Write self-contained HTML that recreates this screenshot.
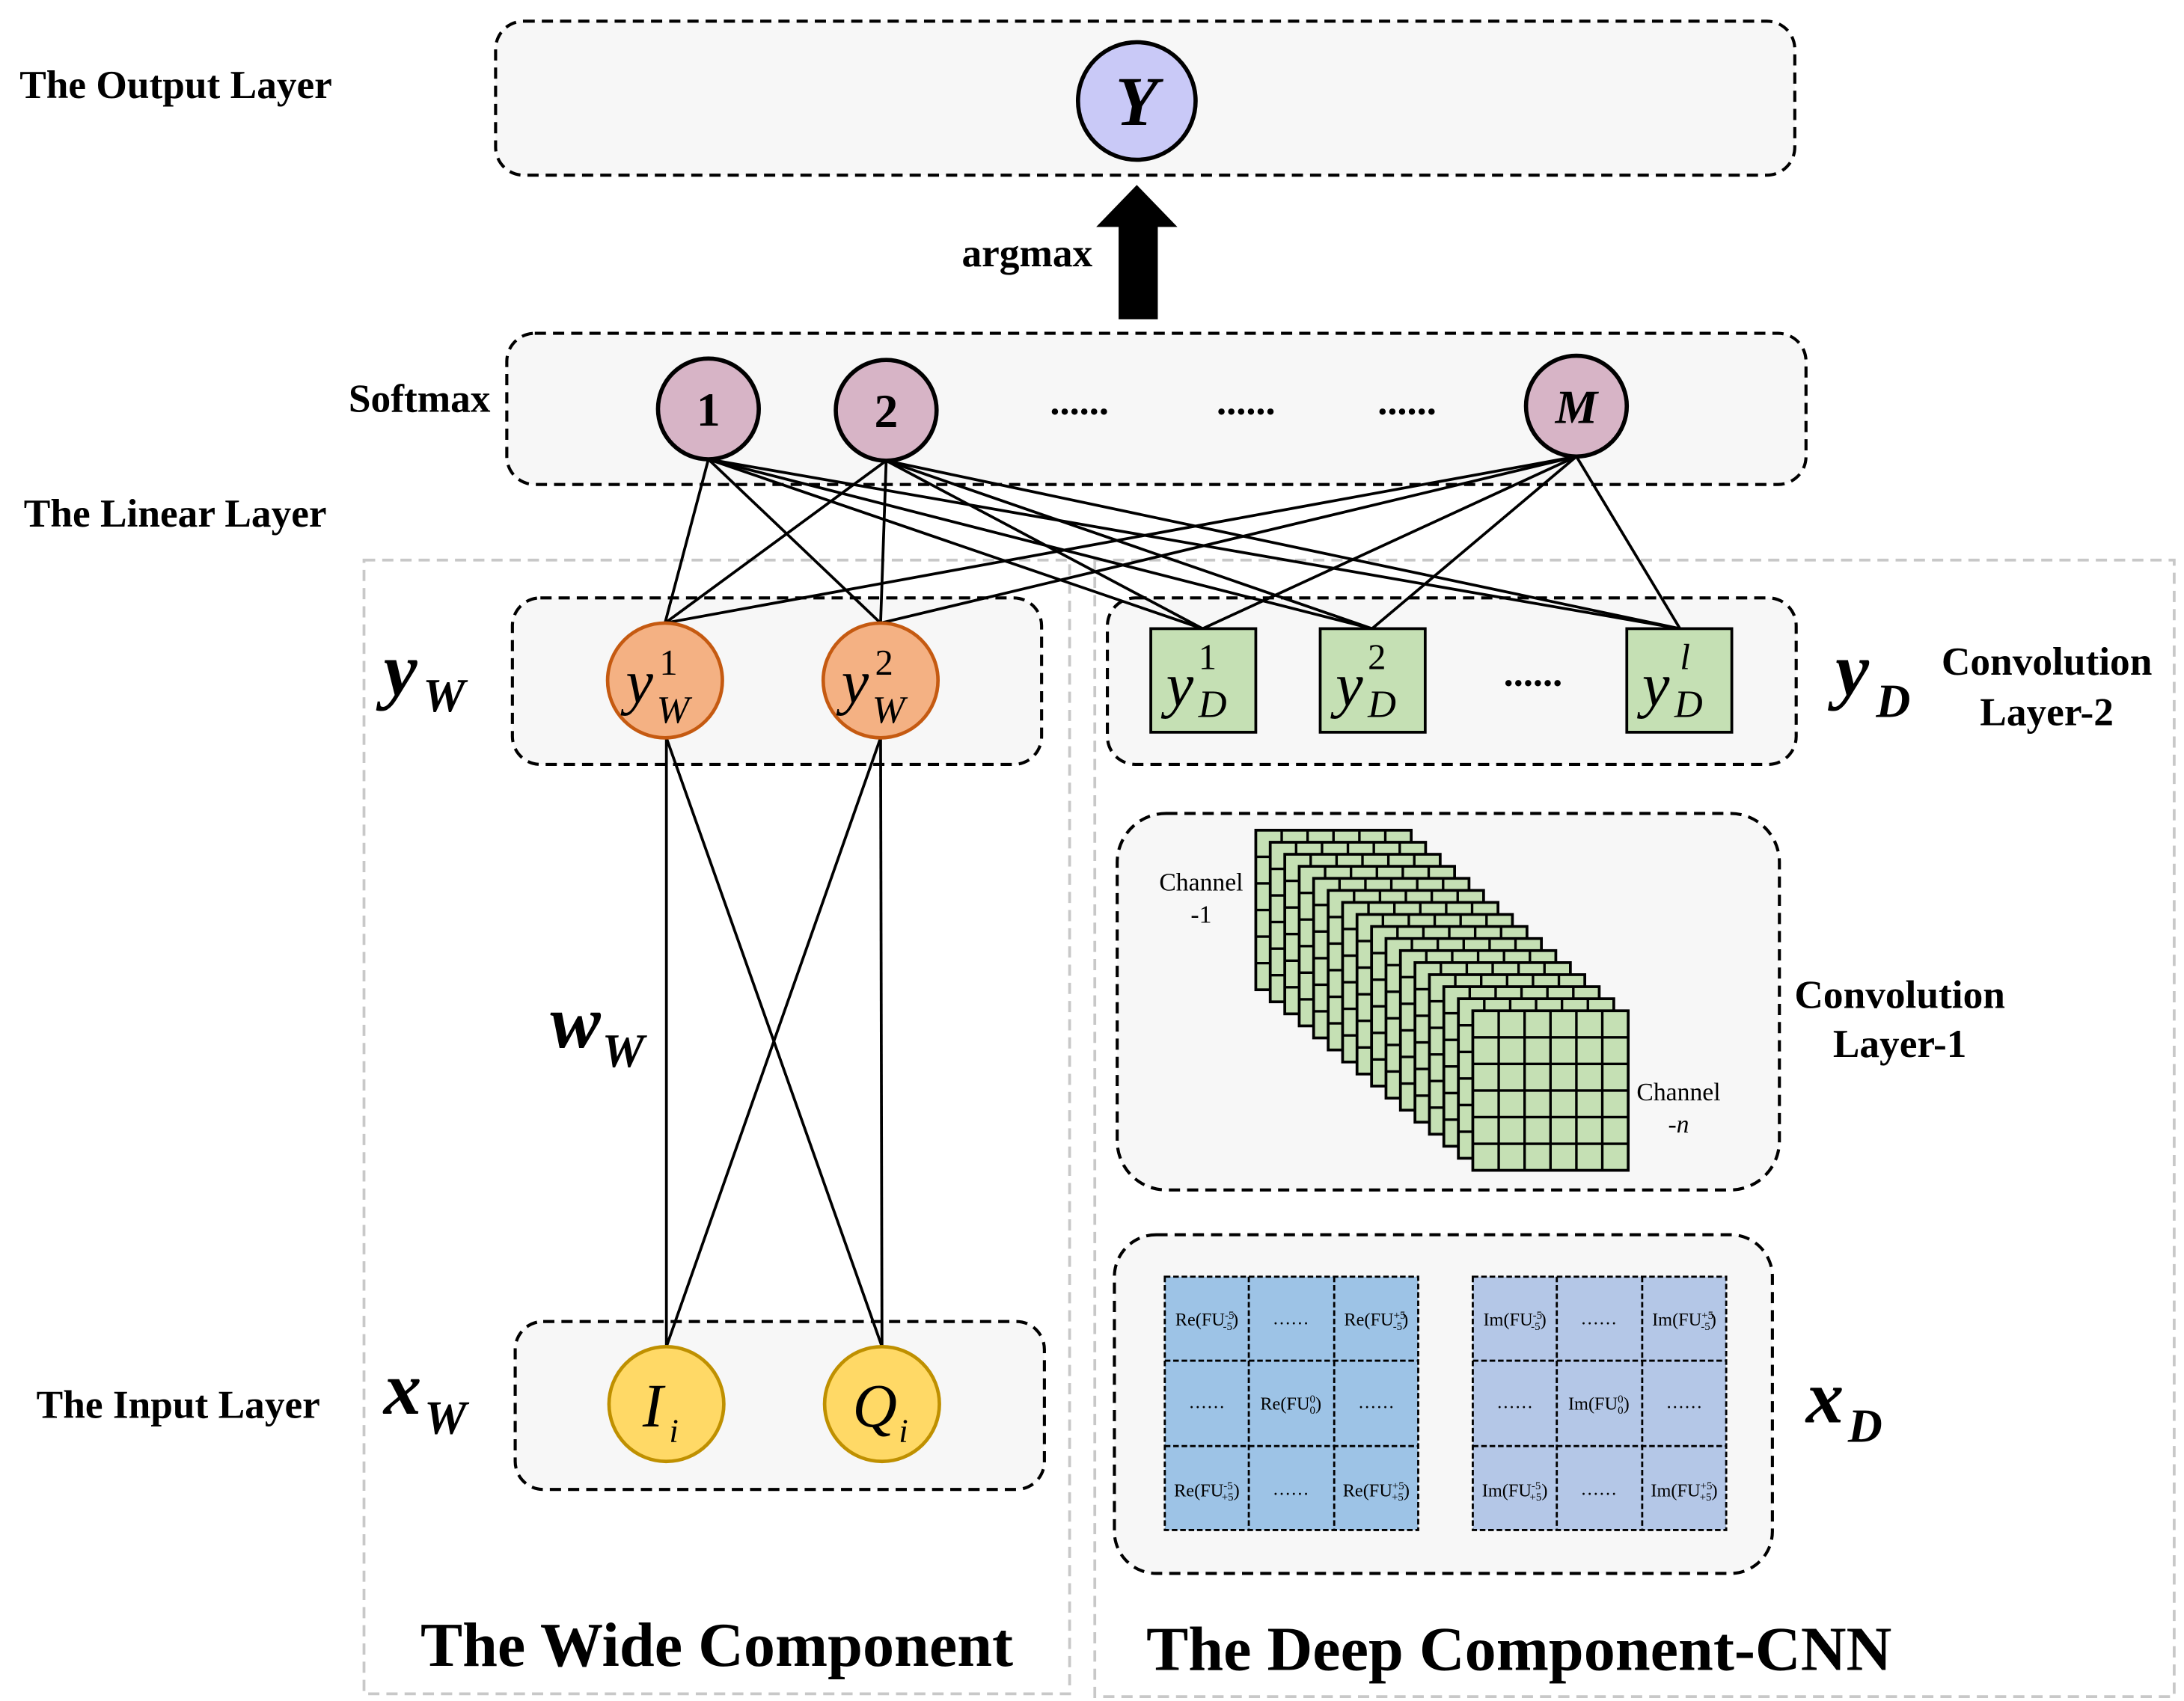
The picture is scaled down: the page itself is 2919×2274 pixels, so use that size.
<!DOCTYPE html>
<html><head><meta charset="utf-8"><style>
html,body{margin:0;padding:0;background:#fff;}
svg{display:block;}
text{font-family:"Liberation Serif",serif;}
.b{font-weight:bold;}
.lab{font-size:28.5px;font-weight:bold;}
</style></head><body>
<svg width="2919" height="2274" viewBox="0 0 1560 1215" xmlns="http://www.w3.org/2000/svg">
<rect width="1560" height="1215" fill="#fff"/>
<rect x="260" y="400" width="504" height="810" fill="none" stroke="#c8c8c8" stroke-width="2" stroke-dasharray="8,5"/>
<rect x="782" y="400" width="771" height="812" fill="none" stroke="#c8c8c8" stroke-width="2" stroke-dasharray="8,5"/>
<g fill="#f7f7f7" stroke="#000" stroke-width="2.2" stroke-dasharray="8,5">
<rect x="354" y="15" width="928" height="110" rx="20"/>
<rect x="362" y="238" width="928" height="108" rx="20"/>
<rect x="366" y="427" width="378" height="119" rx="20"/>
<rect x="791" y="427" width="492" height="119" rx="20"/>
<rect x="798" y="581" width="473" height="269" rx="35"/>
<rect x="796" y="882" width="470" height="242" rx="30"/>
<rect x="368" y="944" width="378" height="120" rx="20"/>
</g>
<text x="14" y="70" class="lab">The Output Layer</text>
<text x="249" y="294" class="lab">Softmax</text>
<text x="17" y="376" class="lab">The Linear Layer</text>
<text x="26" y="1013" class="lab">The Input Layer</text>
<text x="687" y="190" class="lab">argmax</text>
<polygon points="799,228 827,228 827,162 841,162 812,132 783,162 799,162" fill="#000"/>
<g stroke="#000" stroke-width="2" fill="none">
<line x1="506" y1="328" x2="475" y2="445"/><line x1="506" y1="328" x2="629" y2="445"/>
<line x1="506" y1="328" x2="859" y2="449"/><line x1="506" y1="328" x2="980" y2="449"/><line x1="506" y1="328" x2="1200" y2="449"/>
<line x1="633" y1="329" x2="475" y2="445"/><line x1="633" y1="329" x2="629" y2="445"/>
<line x1="633" y1="329" x2="859" y2="449"/><line x1="633" y1="329" x2="980" y2="449"/><line x1="633" y1="329" x2="1200" y2="449"/>
<line x1="1126" y1="326" x2="475" y2="445"/><line x1="1126" y1="326" x2="629" y2="445"/>
<line x1="1126" y1="326" x2="859" y2="449"/><line x1="1126" y1="326" x2="980" y2="449"/><line x1="1126" y1="326" x2="1200" y2="449"/>
<line x1="476" y1="527" x2="476" y2="962"/><line x1="476" y1="527" x2="630" y2="962"/>
<line x1="629" y1="527" x2="476" y2="962"/><line x1="629" y1="527" x2="630" y2="962"/>
</g>
<circle cx="812" cy="72" r="42" fill="#c9c9f7" stroke="#000" stroke-width="3"/>
<text x="812" y="89" text-anchor="middle" font-size="50" font-weight="bold" font-style="italic">Y</text>
<g fill="#d7b4c6" stroke="#000" stroke-width="3">
<circle cx="506" cy="292" r="36"/><circle cx="633" cy="293" r="36"/><circle cx="1126" cy="290" r="36"/>
</g>
<text x="506" y="304" text-anchor="middle" font-size="34" class="b">1</text>
<text x="633" y="305" text-anchor="middle" font-size="34" class="b">2</text>
<text x="1126" y="302" text-anchor="middle" font-size="34" font-weight="bold" font-style="italic">M</text>
<g font-size="28" font-weight="bold" text-anchor="middle">
<text x="771" y="296">......</text><text x="890" y="296">......</text><text x="1005" y="296">......</text>
</g>
<g fill="#f4b183" stroke="#c55a11" stroke-width="2.5">
<circle cx="475" cy="486" r="41"/><circle cx="629" cy="486" r="41"/>
</g>
<g font-style="italic" font-size="44">
<text x="447" y="502">y</text><text x="469" y="516" font-size="28">W</text><text x="471" y="482" font-size="26" font-style="normal">1</text>
<text x="601" y="502">y</text><text x="623" y="516" font-size="28">W</text><text x="625" y="482" font-size="26" font-style="normal">2</text>
</g>
<g fill="#c5e0b4" stroke="#000" stroke-width="2">
<rect x="822" y="449" width="75" height="74"/><rect x="943" y="449" width="75" height="74"/><rect x="1162" y="449" width="75" height="74"/>
</g>
<g font-style="italic" font-size="44">
<text x="833" y="504">y</text><text x="856" y="512" font-size="28">D</text><text x="856" y="478" font-size="26" font-style="normal">1</text>
<text x="954" y="504">y</text><text x="977" y="512" font-size="28">D</text><text x="977" y="478" font-size="26" font-style="normal">2</text>
<text x="1173" y="504">y</text><text x="1196" y="512" font-size="28">D</text><text x="1200" y="478" font-size="26">l</text>
</g>
<text x="1095" y="490" text-anchor="middle" font-size="28" class="b">......</text>
<g fill="#ffd966" stroke="#bf9000" stroke-width="2.5">
<circle cx="476" cy="1003" r="41"/><circle cx="630" cy="1003" r="41"/>
</g>
<g font-style="italic" font-size="44">
<text x="459" y="1019">I</text><text x="478" y="1030" font-size="24">i</text>
<text x="609" y="1019">Q</text><text x="642" y="1030" font-size="24">i</text>
</g>
<g font-style="italic" font-weight="bold" font-size="54">
<text x="274" y="496">y</text><text x="302" y="508" font-size="34">W</text>
<text x="393" y="748">w</text><text x="430" y="762" font-size="34">W</text>
<text x="274" y="1010">x</text><text x="303" y="1024" font-size="34">W</text>
<text x="1311" y="496">y</text><text x="1340" y="512" font-size="34">D</text>
<text x="1290" y="1016">x</text><text x="1320" y="1030" font-size="34">D</text>
</g>
<g text-anchor="middle">
<text x="1462" y="482" class="lab">Convolution</text><text x="1462" y="518" class="lab">Layer-2</text>
<text x="1357" y="720" class="lab">Convolution</text><text x="1357" y="755" class="lab">Layer-1</text>
</g>
<text x="512" y="1190" text-anchor="middle" font-size="45" class="b">The Wide Component</text>
<text x="1085" y="1193" text-anchor="middle" font-size="45" class="b">The Deep Component-CNN</text>
<defs>
<g id="sh">
<rect x="0" y="0" width="111" height="114" fill="#c5e0b4" stroke="#000" stroke-width="2"/>
<path d="M18.5 0V114M37 0V114M55.5 0V114M74 0V114M92.5 0V114M0 19H111M0 38H111M0 57H111M0 76H111M0 95H111" stroke="#000" stroke-width="1.8"/>
</g>
</defs>
<use href="#sh" x="897" y="593"/><use href="#sh" x="907.3" y="601.6"/><use href="#sh" x="917.7" y="610.2"/><use href="#sh" x="928" y="618.8"/>
<use href="#sh" x="938.3" y="627.4"/><use href="#sh" x="948.7" y="636"/><use href="#sh" x="959" y="644.6"/><use href="#sh" x="969.3" y="653.2"/>
<use href="#sh" x="979.7" y="661.8"/><use href="#sh" x="990" y="670.4"/><use href="#sh" x="1000.3" y="679"/><use href="#sh" x="1010.7" y="687.6"/>
<use href="#sh" x="1021" y="696.2"/><use href="#sh" x="1031.3" y="704.8"/><use href="#sh" x="1041.7" y="713.4"/><use href="#sh" x="1052" y="722"/>
<text x="858" y="636" text-anchor="middle" font-size="18">Channel</text><text x="858" y="659" text-anchor="middle" font-size="18">-1</text>
<text x="1199" y="786" text-anchor="middle" font-size="18">Channel</text><text x="1199" y="809" text-anchor="middle" font-size="18" font-style="italic">-n</text>
<g stroke="#000" stroke-width="1.5" stroke-dasharray="4,2">
<rect x="832" y="912" width="181" height="181" fill="#9dc3e6"/>
<path d="M892 912V1093M953 912V1093M832 972H1013M832 1033H1013" fill="none"/>
<rect x="1052" y="912" width="181" height="181" fill="#b4c7e7"/>
<path d="M1112 912V1093M1173 912V1093M1052 972H1233M1052 1033H1233" fill="none"/>
</g>
<g font-size="13" text-anchor="middle">
<text x="862" y="947">Re(FU<tspan font-size="8" dy="-5">-5</tspan><tspan font-size="8" dy="8" dx="-8">-5</tspan><tspan dy="-3">)</tspan></text>
<text x="922" y="946">……</text>
<text x="983" y="947">Re(FU<tspan font-size="8" dy="-5">+5</tspan><tspan font-size="8" dy="8" dx="-9">-5</tspan><tspan dy="-3">)</tspan></text>
<text x="862" y="1006">……</text>
<text x="922" y="1007">Re(FU<tspan font-size="8" dy="-5">0</tspan><tspan font-size="8" dy="8" dx="-4">0</tspan><tspan dy="-3">)</tspan></text>
<text x="983" y="1006">……</text>
<text x="862" y="1069">Re(FU<tspan font-size="8" dy="-5">-5</tspan><tspan font-size="8" dy="8" dx="-8">+5</tspan><tspan dy="-3">)</tspan></text>
<text x="922" y="1068">……</text>
<text x="983" y="1069">Re(FU<tspan font-size="8" dy="-5">+5</tspan><tspan font-size="8" dy="8" dx="-9">+5</tspan><tspan dy="-3">)</tspan></text>
<text x="1082" y="947">Im(FU<tspan font-size="8" dy="-5">-5</tspan><tspan font-size="8" dy="8" dx="-8">-5</tspan><tspan dy="-3">)</tspan></text>
<text x="1142" y="946">……</text>
<text x="1203" y="947">Im(FU<tspan font-size="8" dy="-5">+5</tspan><tspan font-size="8" dy="8" dx="-9">-5</tspan><tspan dy="-3">)</tspan></text>
<text x="1082" y="1006">……</text>
<text x="1142" y="1007">Im(FU<tspan font-size="8" dy="-5">0</tspan><tspan font-size="8" dy="8" dx="-4">0</tspan><tspan dy="-3">)</tspan></text>
<text x="1203" y="1006">……</text>
<text x="1082" y="1069">Im(FU<tspan font-size="8" dy="-5">-5</tspan><tspan font-size="8" dy="8" dx="-8">+5</tspan><tspan dy="-3">)</tspan></text>
<text x="1142" y="1068">……</text>
<text x="1203" y="1069">Im(FU<tspan font-size="8" dy="-5">+5</tspan><tspan font-size="8" dy="8" dx="-9">+5</tspan><tspan dy="-3">)</tspan></text>
</g>
</svg>
</body></html>
